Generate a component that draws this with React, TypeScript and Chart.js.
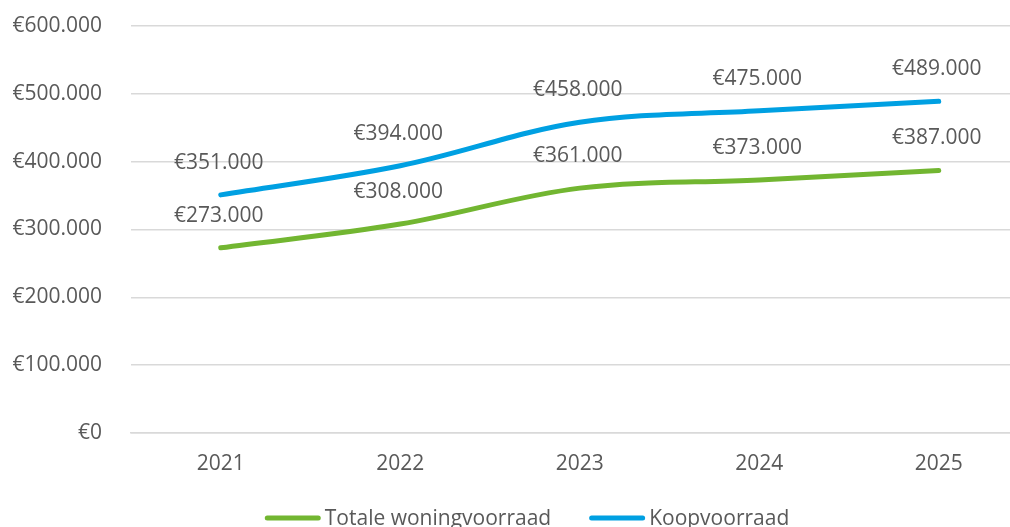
import React, { useEffect, useRef } from "react";
import { Chart, registerables } from "chart.js";

Chart.register(...registerables);

const years = ["2021", "2022", "2023", "2024", "2025"];
const totaleWoningvoorraad = [273000, 308000, 361000, 373000, 387000];
const koopvoorraad = [351000, 394000, 458000, 475000, 489000];
const seriesNames = ["Totale woningvoorraad", "Koopvoorraad"];
const seriesColors = ["#72B631", "#00A0E2"];

const FONT = "'Open Sans', 'Noto Sans', sans-serif";
const TEXT = "#595959";
const FS = 21;

function euro(v: number): string {
  const s = Math.round(v).toString().replace(/\B(?=(\d{3})+(?!\d))/g, ".");
  return "€" + s;
}

const labelsPlugin = {
  id: "valueLabels",
  afterDatasetsDraw(chart: any) {
    const ctx = chart.ctx;
    ctx.save();
    ctx.font = `${FS}px ${FONT}`;
    ctx.fillStyle = TEXT;
    ctx.textAlign = "center";
    ctx.textBaseline = "middle";
    chart.data.datasets.forEach((ds: any, i: number) => {
      const meta = chart.getDatasetMeta(i);
      meta.data.forEach((pt: any, j: number) => {
        ctx.fillText(euro(ds.data[j]), pt.x - 2, pt.y - 32);
      });
    });
    ctx.restore();
  },
};

const legendPlugin = {
  id: "customLegend",
  afterDraw(chart: any) {
    const ctx = chart.ctx;
    ctx.save();
    ctx.font = `${FS}px ${FONT}`;
    const lineW = 56;
    const gapText = 4;
    const gapItem = 38;
    const widths = seriesNames.map((n) => ctx.measureText(n).width);
    const total =
      widths.reduce((a, w) => a + lineW + gapText + w, 0) + gapItem * (seriesNames.length - 1);
    let x = 527 - total / 2;
    const y = 518;
    seriesNames.forEach((n, i) => {
      ctx.strokeStyle = seriesColors[i];
      ctx.lineWidth = 5;
      ctx.lineCap = "round";
      ctx.beginPath();
      ctx.moveTo(x + 2.5, y);
      ctx.lineTo(x + lineW - 2.5, y);
      ctx.stroke();
      ctx.fillStyle = TEXT;
      ctx.textAlign = "left";
      ctx.textBaseline = "middle";
      ctx.fillText(n, x + lineW + gapText, y + 1);
      x += lineW + gapText + widths[i] + gapItem;
    });
    ctx.restore();
  },
};

export default function App() {
  const ref = useRef<HTMLCanvasElement | null>(null);

  useEffect(() => {
    if (!ref.current) return;
    const chart = new Chart(ref.current, {
      type: "line",
      data: {
        labels: years,
        datasets: [
          {
            label: seriesNames[0],
            data: totaleWoningvoorraad,
            borderColor: seriesColors[0],
            backgroundColor: seriesColors[0],
            borderWidth: 5,
            borderCapStyle: "round",
            pointRadius: 0,
            tension: 0.35,
          },
          {
            label: seriesNames[1],
            data: koopvoorraad,
            borderColor: seriesColors[1],
            backgroundColor: seriesColors[1],
            borderWidth: 5,
            borderCapStyle: "round",
            pointRadius: 0,
            tension: 0.35,
          },
        ],
      },
      options: {
        responsive: false,
        animation: false,
        devicePixelRatio: 1,
        layout: { padding: { top: 26, left: 0, right: 11.5, bottom: 67 } },
        plugins: {
          legend: { display: false },
          tooltip: { enabled: false },
        },
        scales: {
          x: {
            offset: true,
            grid: { display: false, drawTicks: false },
            border: { display: true, color: "#D9D9D9", width: 1.5 },
            ticks: {
              color: TEXT,
              font: { family: FONT, size: FS },
              padding: 18,
              maxRotation: 0,
            },
            afterFit(scale: any) {
              scale.height = 60;
              scale.paddingLeft = 0;
              scale.paddingRight = 0;
            },
          },
          y: {
            min: 0,
            max: 600000,
            grid: { color: "#D9D9D9", lineWidth: 1.5, drawTicks: false },
            border: { display: false },
            ticks: {
              stepSize: 100000,
              color: TEXT,
              font: { family: FONT, size: FS },
              padding: 29,
              callback: (v: any) => euro(Number(v)),
            },
            afterFit(scale: any) {
              scale.width = 131;
              scale.paddingTop = 0;
              scale.paddingBottom = 0;
            },
          },
        },
      },
      plugins: [labelsPlugin, legendPlugin],
    });
    return () => chart.destroy();
  }, []);

  return (
    <div
      style={{
        position: "fixed",
        left: 0,
        top: 0,
        width: 1010,
        height: 527,
        overflow: "hidden",
        background: "#fff",
      }}
    >
      <canvas ref={ref} width={1040} height={560} style={{ width: 1040, height: 560, display: "block" }} />
    </div>
  );
}
